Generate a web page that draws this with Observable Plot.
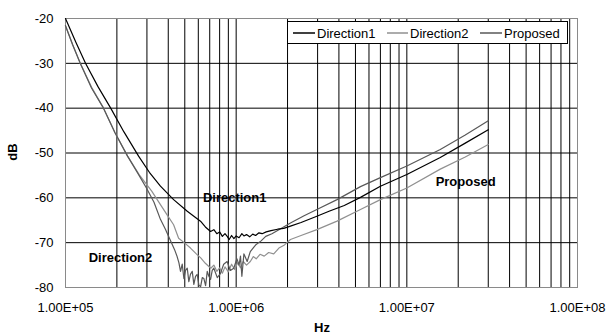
<!DOCTYPE html>
<html>
<head>
<meta charset="utf-8">
<script src="https://cdn.jsdelivr.net/npm/d3@7"></script>
<script src="https://cdn.jsdelivr.net/npm/@observablehq/plot@0.6"></script>
<style>
  html, body { margin: 0; padding: 0; background: #fff; }
  #chart { width: 607px; height: 335px; }
</style>
</head>
<body>
<div id="chart"></div>
<script>
// ---- data ----
const seriesNames = ["Direction1", "Direction2", "Proposed"];

const dir1Freq = [1e5, 1.15e5, 1.31e5, 1.55e5, 1.84e5, 2.2e5, 2.68e5, 3.1e5, 3.6e5, 4.3e5, 5.17e5, 5.6e5, 6.18e5, 6.6e5, 7.08e5, 7.4e5, 7.7e5, 8.0e5, 8.3e5, 8.6e5, 8.86e5, 9.1e5, 9.4e5, 9.7e5, 1.0e6, 1.04e6, 1.08e6, 1.11e6, 1.15e6, 1.2e6, 1.25e6, 1.3e6, 1.36e6, 1.42e6, 1.5e6, 1.6e6, 1.75e6, 1.9e6, 2.08e6, 2.4e6, 2.97e6, 3.5e6, 4.3e6, 5.35e6, 7.0e6, 1.0e7, 1.57e7, 2.2e7, 3.0e7];
const dir1DB   = [-20, -25.3, -30, -35.2, -40, -45.3, -50.7, -54.3, -57.4, -60.4, -63.0, -64.0, -65.2, -66.5, -67.5, -67.1, -68.0, -67.6, -68.6, -68.0, -68.6, -69.3, -68.4, -69.1, -68.5, -68.9, -68.0, -68.5, -68.2, -68.7, -68.1, -68.4, -67.8, -68.0, -67.6, -67.3, -67.0, -66.8, -66.3, -65.5, -64.1, -63.0, -61.7, -59.9, -57.4, -54.8, -51.0, -47.8, -44.8];

const dir2Freq = [1e5, 1.1e5, 1.22e5, 1.42e5, 1.67e5, 1.95e5, 2.31e5, 2.7e5, 3.2e5, 3.6e5, 4.0e5, 4.3e5, 4.6e5, 5.0e5, 5.4e5, 5.8e5, 6.2e5, 6.6e5, 7.1e5, 7.4e5, 7.7e5, 8.0e5, 8.3e5, 8.6e5, 9.0e5, 9.4e5, 9.8e5, 1.02e6, 1.06e6, 1.1e6, 1.15e6, 1.21e6, 1.26e6, 1.31e6, 1.38e6, 1.46e6, 1.55e6, 1.66e6, 1.78e6, 1.92e6, 2.08e6, 2.4e6, 2.97e6, 3.9e6, 5.35e6, 7.0e6, 1.0e7, 1.57e7, 2.2e7, 3.0e7];
const dir2DB   = [-21.6, -25.8, -30, -35.3, -40, -45.5, -50.7, -54.8, -58.5, -61.5, -64.2, -66.0, -69.0, -70.1, -71.2, -72.4, -73.4, -74.6, -75.7, -75.0, -76.4, -75.6, -76.8, -75.4, -76.5, -74.8, -76.0, -74.5, -75.6, -74.2, -75.0, -74.2, -73.1, -73.6, -72.6, -73.0, -72.2, -72.5, -71.2, -70.5, -69.3, -68.4, -67.1, -65.2, -62.6, -60.4, -57.8, -53.6, -50.9, -48.1];

const propFreq = [1e5, 1.1e5, 1.22e5, 1.42e5, 1.67e5, 1.95e5, 2.31e5, 2.65e5, 2.98e5, 3.3e5, 3.6e5, 3.85e5, 4.12e5, 4.35e5, 4.5e5, 4.62e5, 4.72e5, 4.83e5, 4.94e5, 5.05e5, 5.17e5, 5.28e5, 5.4e5, 5.53e5, 5.65e5, 5.78e5, 5.91e5, 6.05e5, 6.19e5, 6.33e5, 6.47e5, 6.62e5, 6.77e5, 6.92e5, 7.08e5, 7.24e5, 7.4e5, 7.75e5, 8.08e5, 8.45e5, 8.85e5, 9.25e5, 9.68e5, 1.01e6, 1.04e6, 1.06e6, 1.08e6, 1.11e6, 1.16e6, 1.21e6, 1.27e6, 1.31e6, 1.4e6, 1.49e6, 1.62e6, 1.78e6, 2.08e6, 2.5e6, 2.97e6, 3.9e6, 5.35e6, 7.0e6, 1.0e7, 1.57e7, 2.2e7, 3.0e7];
const propDB   = [-21.6, -25.8, -30, -35.5, -40, -45.5, -50.7, -54.5, -57.8, -61.0, -64.8, -67.0, -69.5, -71.5, -73.0, -74.5, -76.4, -74.8, -78.0, -76.2, -75.7, -78.7, -77.0, -76.4, -79.3, -77.5, -77.1, -79.5, -79.8, -77.8, -78.0, -79.6, -76.4, -77.5, -78.2, -76.2, -75.7, -77.8, -76.9, -74.8, -74.2, -76.2, -75.7, -73.6, -75.0, -73.0, -77.5, -72.5, -74.2, -72.0, -71.0, -70.4, -69.6, -68.6, -68.0, -67.1, -65.6, -64.0, -62.6, -60.4, -57.5, -55.5, -52.9, -49.2, -46.0, -42.8];

// in-plot curve labels
const labelText = ["Direction1", "Direction2", "Proposed"];
const labelFreq = [9.8e5, 2.1e5, 2.21e7];
const labelDB   = [-60.1, -73.3, -56.5];

// axis ticks
const xTicks = [1e5, 1e6, 1e7, 1e8];
const xTickLabels = ["1.00E+05", "1.00E+06", "1.00E+07", "1.00E+08"];
const yTicks = [-80, -70, -60, -50, -40, -30, -20];
const yTickLabels = ["-80", "-70", "-60", "-50", "-40", "-30", "-20"];
const xLabel = "Hz";
const yLabel = "dB";

// ---- build tables ----
const toRows = (fs, vs, name) => fs.map((f, i) => ({ f, v: vs[i], name }));
const rows1 = toRows(dir1Freq, dir1DB, seriesNames[0]);
const rows2 = toRows(dir2Freq, dir2DB, seriesNames[1]);
const rows3 = toRows(propFreq, propDB, seriesNames[2]);
const labels = labelText.map((t, i) => ({ t, f: labelFreq[i], v: labelDB[i] }));

// minor + major vertical grid values (1..9 x each decade)
const gridX = [];
for (let d = 1e5; d < 1e8; d *= 10) for (let k = 1; k < 10; k++) gridX.push(d * k);
gridX.push(1e8);

const colors = { Direction1: "#000000", Direction2: "#909090", Proposed: "#585858" };
const FONT = "'Liberation Sans', Arial, sans-serif";

const chart = Plot.plot({
  width: 607,
  height: 335,
  marginLeft: 65,
  marginRight: 30,
  marginTop: 18,
  marginBottom: 48,
  style: { fontFamily: FONT, fontSize: "13px", color: "#000", background: "#fff", overflow: "visible" },
  x: { type: "log", domain: [1e5, 1e8] },
  y: { domain: [-80, -20] },
  marks: [
    Plot.ruleX(gridX, { stroke: "#000", strokeWidth: 1 }),
    Plot.ruleY(yTicks, { stroke: "#000", strokeWidth: 1 }),
    Plot.frame({ stroke: "#8a8a8a", strokeWidth: 1 }),
    Plot.line(rows2, { x: "f", y: "v", stroke: colors.Direction2, strokeWidth: 1.2 }),
    Plot.line(rows3, { x: "f", y: "v", stroke: colors.Proposed, strokeWidth: 1.2 }),
    Plot.line(rows1, { x: "f", y: "v", stroke: colors.Direction1, strokeWidth: 1.2 }),
    Plot.text(labels, { x: "f", y: "v", text: "t", fontWeight: "bold", fontSize: 13, fill: "#000", textAnchor: "middle" }),
    Plot.axisX({ ticks: xTicks, tickFormat: d => xTickLabels[xTicks.indexOf(d)], tickSize: 0, tickPadding: 15, label: null, fontSize: 13 }),
    Plot.axisY({ ticks: yTicks, tickFormat: d => yTickLabels[yTicks.indexOf(d)], tickSize: 0, tickPadding: 12, label: null, fontSize: 13 })
  ]
});

document.getElementById("chart").appendChild(chart);

// ---- axis titles and legend (added onto the svg) ----
const svg = d3.select(chart);
svg.append("text").attr("x", 322).attr("y", 332).attr("text-anchor", "middle")
  .attr("font-family", FONT).attr("font-size", 13).attr("font-weight", "bold").attr("fill", "#000").text(xLabel);
svg.append("text").attr("transform", "translate(17,152) rotate(-90)").attr("text-anchor", "middle")
  .attr("font-family", FONT).attr("font-size", 13).attr("font-weight", "bold").attr("fill", "#000").text(yLabel);

const lg = svg.append("g");
lg.append("rect").attr("x", 287.5).attr("y", 21.5).attr("width", 280).attr("height", 22)
  .attr("fill", "#fff").attr("stroke", "#000").attr("stroke-width", 1);
const legendItems = [
  { name: seriesNames[0], x1: 293, x2: 315, tx: 317 },
  { name: seriesNames[1], x1: 387, x2: 408, tx: 410 },
  { name: seriesNames[2], x1: 480, x2: 502, tx: 504 }
];
legendItems.forEach(it => {
  lg.append("line").attr("x1", it.x1).attr("x2", it.x2).attr("y1", 33).attr("y2", 33)
    .attr("stroke", colors[it.name]).attr("stroke-width", 1.5);
  lg.append("text").attr("x", it.tx).attr("y", 33).attr("dy", "0.35em").attr("text-anchor", "start")
    .attr("font-family", FONT).attr("font-size", 13).attr("fill", "#000").text(it.name);
});
</script>
</body>
</html>
